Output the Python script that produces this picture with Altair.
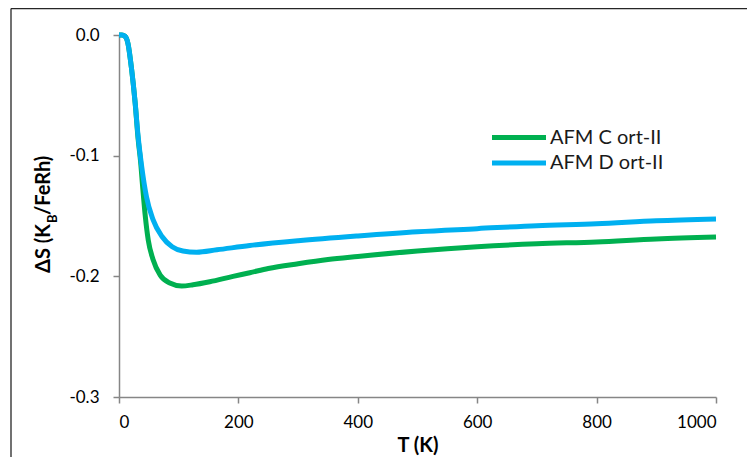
import altair as alt
import pandas as pd

# ---- data ----
series = ["AFM C ort-II", "AFM D ort-II"]
colors = ["#00B050", "#00B0F0"]

T_C = [0, 5, 10, 15, 21, 27, 32, 36, 40, 44, 49, 57, 69, 85, 105, 124, 152, 191, 219,
       250, 300, 350, 400, 500, 600, 700, 800, 900, 1000]
S_C = [0, 0, -0.001, -0.007, -0.028, -0.056, -0.086, -0.104, -0.128, -0.150, -0.170,
       -0.186, -0.199, -0.2055, -0.208, -0.207, -0.2045, -0.2, -0.197,
       -0.1935, -0.1895, -0.186, -0.1835, -0.179, -0.1755, -0.173, -0.1715, -0.169, -0.1675]

T_D = [0, 5, 10, 15, 21, 27, 32, 38, 46, 57, 72, 89, 107, 130, 164, 219,
       300, 400, 500, 600, 700, 800, 900, 1000]
S_D = [0, 0, -0.001, -0.007, -0.028, -0.056, -0.084, -0.109, -0.134, -0.153, -0.167,
       -0.1755, -0.179, -0.180, -0.178, -0.1745,
       -0.1705, -0.1665, -0.163, -0.1605, -0.158, -0.1565, -0.154, -0.1525]

x_ticks = [0, 200, 400, 600, 800, 1000]
y_ticks = [0.0, -0.1, -0.2, -0.3]

df = pd.concat([
    pd.DataFrame({"T": T_C, "S": S_C, "series": series[0]}),
    pd.DataFrame({"T": T_D, "S": S_D, "series": series[1]}),
], ignore_index=True)

one = pd.DataFrame({"a": [0]})

FONT = "Lato"
AXIS_GREY = "#868686"

x_enc = alt.X("T:Q",
              scale=alt.Scale(domain=[0, 1000], nice=False),
              axis=alt.Axis(values=x_ticks, format="d", title="T (K)", labelPadding=11,
                            titlePadding=5, titleFont=FONT, titleFontSize=20,
                            titleFontWeight="bold", titleColor="#000000"))
y_enc = alt.Y("S:Q",
              scale=alt.Scale(domain=[-0.3, 0], nice=False),
              axis=alt.Axis(values=y_ticks, format=".1f",
                            labelExpr="replace(datum.label, '\u2212', '-')",
                            labelPadding=14, title=None))

lines = alt.Chart(df).mark_line(strokeWidth=5, interpolate="monotone").encode(
    x=x_enc, y=y_enc,
    color=alt.Color("series:N", scale=alt.Scale(domain=series, range=colors), legend=None),
)

# manual legend
leg = []
for i, (name, col) in enumerate(zip(series, colors)):
    yy = 102.5 + i * 25.5
    leg.append(alt.Chart(one).mark_rule(strokeWidth=5, color=col).encode(
        x=alt.value(373), x2=alt.value(427), y=alt.value(yy)))
    leg.append(alt.Chart(one).mark_text(align="left", baseline="middle", font=FONT,
                                        fontSize=20, color="#1a1a1a").encode(
        x=alt.value(431), y=alt.value(yy), text=alt.value(name)))

# y-axis title with subscript
def ytxt(t, xx, yy, size):
    return alt.Chart(one).mark_text(angle=270, align="left", baseline="alphabetic",
                                    font=FONT, fontSize=size, fontWeight="bold",
                                    color="#000000").encode(
        x=alt.value(xx), y=alt.value(yy), text=alt.value(t))

ytitle = [ytxt("\u0394S (K", -69, 238, 20), ytxt("B", -62, 188, 13), ytxt("/FeRh)", -69, 180, 20)]

# outer chart frame (left and top edges visible)
frame_v = alt.Chart(one).mark_rule(color="#262626", strokeWidth=1.3).encode(
    x=alt.value(-108), y=alt.value(-26.5), y2=alt.value(440))
frame_h = alt.Chart(one).mark_rule(color="#262626", strokeWidth=1.3).encode(
    y=alt.value(-26.5), x=alt.value(-108), x2=alt.value(700))

chart = alt.layer(frame_v, frame_h, lines, *leg, *ytitle).properties(
    width=597, height=362,
    autosize=alt.AutoSizeParams(type="none"),
    padding={"left": 111, "top": 27, "right": 31, "bottom": 60},
).configure_view(strokeWidth=0).configure_axis(
    grid=False, domainColor=AXIS_GREY, domainWidth=1.5, tickColor=AXIS_GREY,
    tickWidth=1.5, tickSize=6, labelFont=FONT, labelFontSize=17, labelColor="#000000",
)

chart.save("out.html", embed_options={"renderer": "svg", "actions": False})
